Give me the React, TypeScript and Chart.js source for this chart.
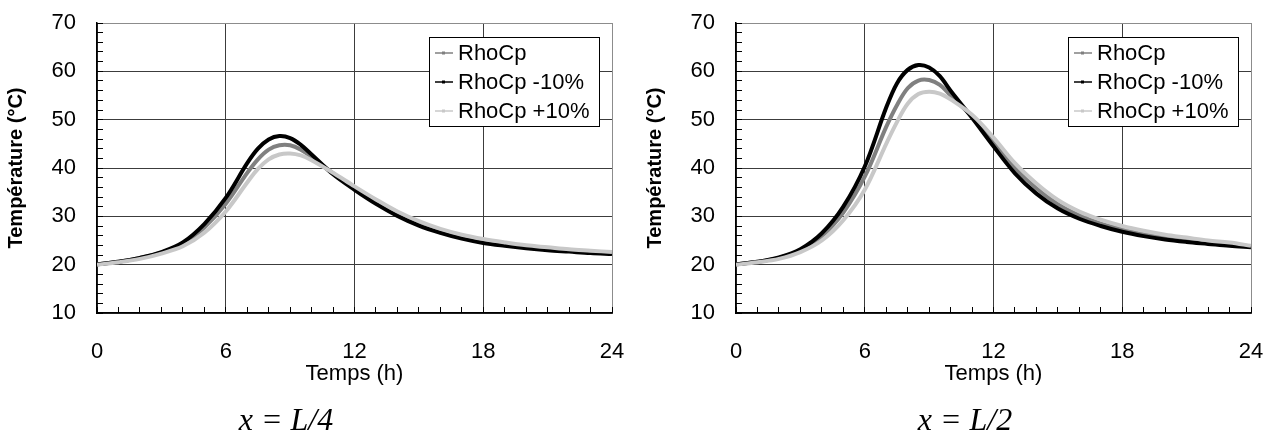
import React, { useEffect, useRef } from "react";
import { Chart, registerables } from "chart.js";

Chart.register(...registerables);

// ---- data ----
const hours = [0, 1, 2, 3, 4, 5, 6, 7, 7.5, 8, 8.5, 9, 9.5, 10, 11, 12, 13, 14, 15, 16, 17, 18, 19, 20, 21, 22, 23, 24];
const seriesLabels = ["RhoCp", "RhoCp -10%", "RhoCp +10%"];
const seriesColors = ["#808080", "#000000", "#c8c8c8"];

// x = L/4
const quarterBase = [20.1, 20.6, 21.4, 22.5, 24.3, 27.7, 32.6, 39.0, 41.8, 43.8, 44.7, 44.7, 43.8, 42.3, 38.9, 35.8, 33.0, 30.5, 28.6, 27.0, 25.8, 24.9, 24.2, 23.7, 23.3, 22.9, 22.6, 22.4];
const quarterMinus = [20.1, 20.6, 21.4, 22.6, 24.6, 28.4, 33.8, 41.0, 44.0, 45.9, 46.6, 46.2, 44.8, 42.8, 38.7, 35.5, 32.6, 30.1, 28.1, 26.6, 25.4, 24.5, 23.9, 23.4, 23.0, 22.7, 22.4, 22.2];
const quarterPlus = [20.0, 20.5, 21.2, 22.3, 23.8, 26.6, 31.0, 37.0, 39.8, 41.8, 42.8, 43.0, 42.6, 41.6, 39.0, 36.2, 33.5, 31.0, 29.0, 27.4, 26.2, 25.3, 24.6, 24.0, 23.6, 23.2, 22.9, 22.6];

// x = L/2
const halfBase = [20.1, 20.6, 21.4, 22.9, 25.9, 30.8, 38.2, 48.5, 53.0, 56.5, 58.1, 58.2, 57.2, 55.0, 50.6, 45.2, 40.0, 35.8, 32.5, 30.2, 28.5, 27.3, 26.3, 25.6, 25.1, 24.6, 24.2, 23.8];
const halfMinus = [20.1, 20.6, 21.5, 23.2, 26.5, 32.0, 40.3, 52.5, 57.5, 60.3, 61.3, 60.8, 59.0, 56.0, 50.4, 44.5, 38.9, 34.7, 31.6, 29.5, 28.0, 26.8, 25.9, 25.2, 24.7, 24.3, 23.9, 23.6];
const halfPlus = [20.0, 20.5, 21.2, 22.6, 25.0, 29.2, 35.5, 45.0, 49.5, 53.3, 55.3, 55.8, 55.4, 54.2, 51.0, 46.3, 41.0, 36.8, 33.4, 31.0, 29.3, 28.0, 27.0, 26.2, 25.6, 25.0, 24.6, 23.9];

const xMajorStep = 6;
const yMajorStep = 10;
const xRange = [0, 24];
const yRange = [10, 70];
const xTitle = "Temps (h)";
const yTitle = "Température (°C)";
const captions = ["x = L/4", "x = L/2"];

const SANS = '"Liberation Sans", Arial, sans-serif';

const boxLegend = {
  id: "boxLegend",
  afterDraw(chart: any) {
    const { ctx, chartArea } = chart;
    const w = 170;
    const h = 89;
    const x0 = Math.round(chartArea.right - 13 - w);
    const y0 = 37;
    ctx.save();
    ctx.fillStyle = "#ffffff";
    ctx.fillRect(x0, y0, w, h);
    ctx.strokeStyle = "#000000";
    ctx.lineWidth = 1;
    ctx.strokeRect(x0 + 0.5, y0 + 0.5, w, h);
    ctx.font = "22px " + SANS;
    ctx.textBaseline = "middle";
    ctx.textAlign = "left";
    chart.data.datasets.forEach((ds: any, i: number) => {
      const cy = y0 + 16 + i * 29;
      ctx.strokeStyle = ds.borderColor;
      ctx.lineWidth = 1.5;
      ctx.beginPath();
      ctx.moveTo(x0 + 6, cy);
      ctx.lineTo(x0 + 24, cy);
      ctx.stroke();
      ctx.fillStyle = ds.borderColor;
      ctx.fillRect(x0 + 13, cy - 1.5, 3, 3);
      ctx.fillStyle = "#000000";
      ctx.fillText(ds.label, x0 + 29, cy + 1);
    });
    ctx.restore();
  },
};

const captionPlugin = {
  id: "captionPlugin",
  afterDraw(chart: any, _args: any, opts: any) {
    const { ctx } = chart;
    ctx.save();
    ctx.font = 'italic 32px "Liberation Serif", "Times New Roman", serif';
    ctx.fillStyle = "#000000";
    ctx.textAlign = "center";
    ctx.textBaseline = "alphabetic";
    ctx.fillText(opts.text, opts.x, 430);
    ctx.restore();
  },
};

type PanelProps = {
  base: number[];
  minus: number[];
  plus: number[];
  caption: string;
  left: number;
  axisWidth: number;
  padRight: number;
  yTitlePad: number;
  captionX: number;
};

function Panel(p: PanelProps) {
  const ref = useRef<HTMLCanvasElement | null>(null);
  useEffect(() => {
    if (!ref.current) return;
    const series = [p.base, p.minus, p.plus];
    const orders = [2, 1, 0];
    const chart = new Chart(ref.current, {
      type: "line",
      data: {
        datasets: series.map((vals, i) => ({
          label: seriesLabels[i],
          data: hours.map((h, k) => ({ x: h, y: vals[k] })),
          borderColor: seriesColors[i],
          backgroundColor: seriesColors[i],
          borderWidth: 4,
          pointRadius: 0,
          tension: 0.35,
          order: orders[i],
        })),
      },
      plugins: [boxLegend, captionPlugin],
      options: {
        animation: false,
        responsive: false,
        devicePixelRatio: 1,
        layout: { padding: { left: 0, right: p.padRight, top: 23, bottom: 48 } },
        plugins: {
          legend: { display: false },
          tooltip: { enabled: false },
          captionPlugin: { text: p.caption, x: p.captionX },
        } as any,
        scales: {
          x: {
            type: "linear",
            min: xRange[0],
            max: xRange[1],
            afterFit: (s: any) => {
              s.height = 74;
              s.paddingLeft = 0;
              s.paddingRight = 0;
            },
            ticks: {
              stepSize: 1,
              autoSkip: false,
              maxRotation: 0,
              padding: 32,
              color: "#000",
              font: { family: SANS, size: 22 },
              callback: (v: any) => (Number(v) % xMajorStep === 0 ? String(v) : ""),
            },
            grid: {
              color: (c: any) =>
                c.tick && c.tick.value === xRange[1]
                  ? "#8c8c8c"
                  : c.tick && c.tick.value % xMajorStep === 0
                  ? "#3c3c3c"
                  : "rgba(0,0,0,0)",
              lineWidth: 1,
              tickLength: -6,
              tickColor: "#000",
              tickWidth: 1,
            },
            border: { color: "#000", width: 1.5 },
            title: {
              display: true,
              text: xTitle,
              color: "#000",
              font: { family: SANS, size: 22 },
              padding: { top: 0, bottom: 0 },
            },
          },
          y: {
            type: "linear",
            min: yRange[0],
            max: yRange[1],
            afterFit: (s: any) => {
              s.width = p.axisWidth;
              s.paddingTop = 0;
              s.paddingBottom = 0;
            },
            ticks: {
              stepSize: 2,
              autoSkip: false,
              padding: 27,
              color: "#000",
              font: { family: SANS, size: 22 },
              callback: (v: any) => (Number(v) % yMajorStep === 0 ? String(v) : ""),
            },
            grid: {
              color: (c: any) =>
                c.tick && c.tick.value === yRange[1]
                  ? "#8c8c8c"
                  : c.tick && c.tick.value % yMajorStep === 0
                  ? "#3c3c3c"
                  : "rgba(0,0,0,0)",
              lineWidth: 1,
              tickLength: -6,
              tickColor: "#000",
              tickWidth: 1,
            },
            border: { color: "#000", width: 1.5 },
            title: {
              display: true,
              text: yTitle,
              color: "#000",
              font: { family: SANS, size: 20, weight: "bold" },
              padding: { top: p.yTitlePad, bottom: 0 },
            },
          },
        },
      } as any,
    });
    return () => chart.destroy();
  }, []);
  return (
    <canvas
      ref={ref}
      width={634}
      height={435}
      style={{ position: "absolute", left: p.left, top: 0, width: 634, height: 435 }}
    />
  );
}

export default function App() {
  return (
    <div
      style={{
        position: "absolute",
        left: 0,
        top: 0,
        width: 1268,
        height: 435,
        background: "#ffffff",
        overflow: "hidden",
      }}
    >
      <Panel
        base={quarterBase}
        minus={quarterMinus}
        plus={quarterPlus}
        caption={captions[0]}
        left={0}
        axisWidth={97}
        padRight={22}
        yTitlePad={4}
        captionX={286}
      />
      <Panel
        base={halfBase}
        minus={halfMinus}
        plus={halfPlus}
        caption={captions[1]}
        left={634}
        axisWidth={102}
        padRight={17}
        yTitlePad={9}
        captionX={965 - 634}
      />
    </div>
  );
}
